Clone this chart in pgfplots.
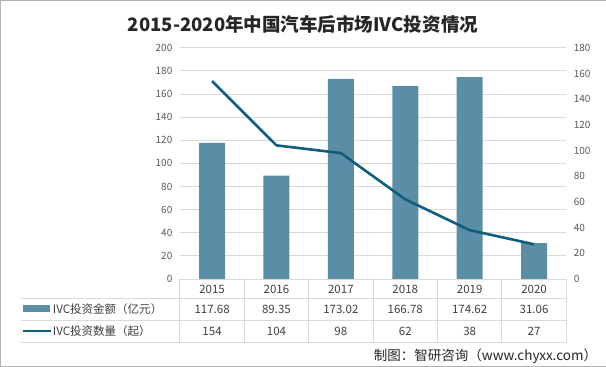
\documentclass[border=0pt]{standalone}
\usepackage{fontspec}
\setmainfont{Noto Sans CJK SC}
\usepackage{pgfplots}
\pgfplotsset{compat=1.18}
\definecolor{barc}{HTML}{5A8EA6}
\definecolor{linec}{HTML}{0F5E7D}
\definecolor{gridc}{HTML}{D9D9D9}
\definecolor{txt}{HTML}{595959}
\definecolor{tabtxt}{HTML}{404040}
\begin{document}
\begin{tikzpicture}[x=1pt,y=1pt]
\draw[draw=gray!60, fill=white] (0.5,0.5) rectangle (605.5,366.5);
\node[font=\fontsize{18.5}{20}\selectfont\bfseries, text=black!85] at (303,342) {2015-2020年中国汽车后市场IVC投资情况};
\begin{axis}[at={(180pt,88pt)}, anchor=south west, scale only axis,
  width=386pt, height=231pt, xmin=-0.5, xmax=5.5, ymin=0, ymax=200,
  ytick={0,20,...,200}, xtick=\empty, ymajorgrids,
  grid style={gridc, line width=0.8pt},
  axis line style={draw=none}, tick style={draw=none},
  yticklabel style={font=\fontsize{10}{12}\selectfont, text=txt, xshift=-4pt},
  /pgf/number format/assume math mode=true,
  ybar, bar width=26pt]
\addplot[fill=barc, draw=none] coordinates {(0,117.68)(1,89.35)(2,173.02)(3,166.78)(4,174.62)(5,31.06)};
\end{axis}
\begin{axis}[at={(180pt,88pt)}, anchor=south west, scale only axis,
  width=386pt, height=231pt, xmin=-0.5, xmax=5.5, ymin=0, ymax=180,
  ytick={0,20,...,180}, xtick=\empty,
  axis y line*=right, axis x line=none,
  axis line style={draw=none}, tick style={draw=none},
  yticklabel style={font=\fontsize{10}{12}\selectfont, text=txt, xshift=4pt},
  /pgf/number format/assume math mode=true]
\addplot[linec, line width=2.6pt, mark=none, line join=round] coordinates {(0,154)(1,104)(2,98)(3,62)(4,38)(5,27)};
\end{axis}
% data table
\foreach \yy in {69,47,25} {\draw[gridc, line width=0.8pt] (21,\yy) -- (566,\yy);}
\foreach \k in {0,...,6} {\draw[gridc, line width=0.8pt] ({180+64.333*\k},88) -- ({180+64.333*\k},25);}
\foreach \yr [count=\i from 0] in {2015,2016,2017,2018,2019,2020}
  {\node[font=\fontsize{11.5}{13}\selectfont, text=tabtxt] at ({180+64.333*(\i+0.5)},78) {\yr};}
\foreach \v [count=\i from 0] in {117.68,89.35,173.02,166.78,174.62,31.06}
  {\node[font=\fontsize{11.5}{13}\selectfont, text=tabtxt] at ({180+64.333*(\i+0.5)},58) {\v};}
\foreach \v [count=\i from 0] in {154,104,98,62,38,27}
  {\node[font=\fontsize{11.5}{13}\selectfont, text=tabtxt] at ({180+64.333*(\i+0.5)},36) {\v};}
\fill[barc] (23,55.5) rectangle (50,62);
\draw[linec, line width=2.6pt] (23,36) -- (51,36);
\node[anchor=west, inner sep=0pt, font=\fontsize{11.5}{13}\selectfont, text=tabtxt] at (53,58) {IVC投资金额（亿元）};
\node[anchor=west, inner sep=0pt, font=\fontsize{11.5}{13}\selectfont, text=tabtxt] at (53,36) {IVC投资数量（起）};
\node[anchor=east, inner sep=0pt, font=\fontsize{13.5}{15}\selectfont, text=black!85] at (597,11) {制图：智研咨询（www.chyxx.com）};
\end{tikzpicture}
\end{document}
